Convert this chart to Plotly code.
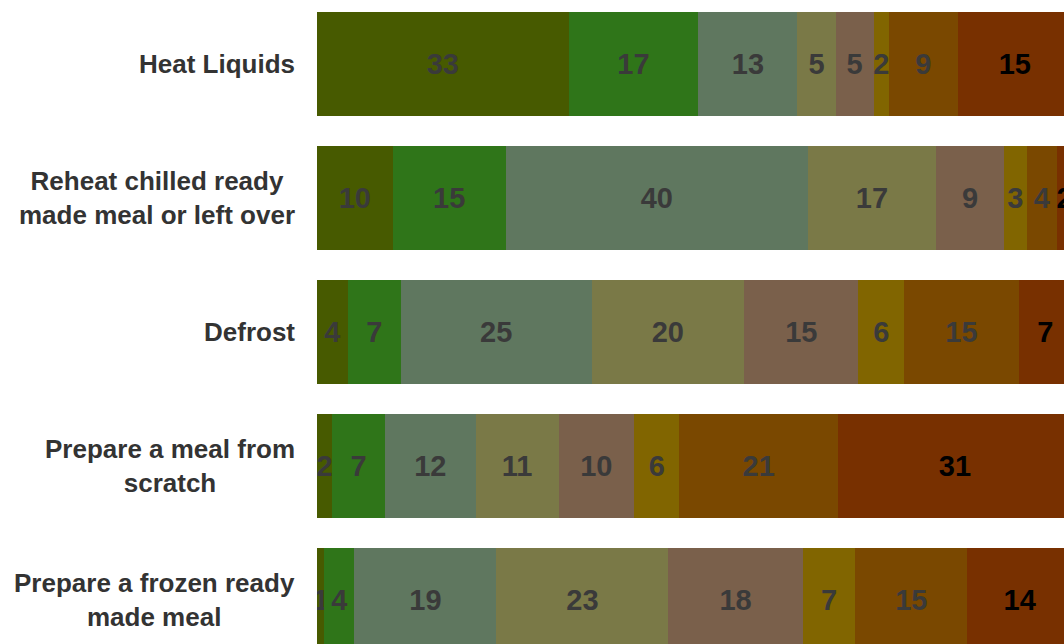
import plotly.graph_objects as go

categories = [
    "Heat Liquids",
    "Reheat chilled ready<br>made meal or left over",
    "Defrost",
    "Prepare a meal from<br>scratch",
    "Prepare a frozen ready<br>made meal",
]

series_names = ["Series 1", "Series 2", "Series 3", "Series 4",
                "Series 5", "Series 6", "Series 7", "Series 8"]

# values per series (one entry per category, top to bottom)
s1 = [33, 10, 4, 2, 1]
s2 = [17, 15, 7, 7, 4]
s3 = [13, 40, 25, 12, 19]
s4 = [5, 17, 20, 11, 23]
s5 = [5, 9, 15, 10, 18]
s6 = [2, 3, 6, 6, 7]
s7 = [9, 4, 15, 21, 15]
s8 = [15, 2, 7, 31, 14]
series_values = [s1, s2, s3, s4, s5, s6, s7, s8]

colors = ["#475a00", "#2f7519", "#5f775f", "#7a7947",
          "#7a604b", "#816500", "#7a4800", "#783000"]
text_colors = ["#3a3a3a"] * 7 + ["#000000"]

fig = go.Figure()
for name, vals, col, tcol in zip(series_names, series_values, colors, text_colors):
    fig.add_trace(go.Bar(
        name=name,
        y=categories,
        x=vals,
        orientation="h",
        marker=dict(color=col, line=dict(width=0)),
        text=[str(v) for v in vals],
        texttemplate="%{text}",
        textposition="inside",
        insidetextanchor="middle",
        constraintext="none",
        textangle=0,
        textfont=dict(family="Liberation Sans, Arial, sans-serif", size=29,
                      color=tcol, weight="bold"),
        hoverinfo="skip",
    ))

for cat in categories:
    fig.add_annotation(
        x=0, xref="paper", y=cat, yref="y",
        text=cat, showarrow=False, xanchor="right", yanchor="middle",
        xshift=-20, align="center",
        font=dict(family="Liberation Sans, Arial, sans-serif", size=26,
                  color="#333333", weight="bold"),
    )

fig.update_layout(
    width=1064, height=644,
    margin=dict(l=317, r=0, t=0, b=0, pad=0),
    barmode="stack",
    barnorm="percent",
    bargap=0.224,
    showlegend=False,
    plot_bgcolor="white",
    paper_bgcolor="white",
    xaxis=dict(range=[0, 98.94], showgrid=False, zeroline=False,
               showticklabels=False, ticks="", fixedrange=True),
    yaxis=dict(type="category", categoryorder="array", categoryarray=categories,
               range=[4.328, -0.478], showgrid=False, zeroline=False,
               showticklabels=False, ticks="", fixedrange=True),
)

fig.write_html("out.html")
